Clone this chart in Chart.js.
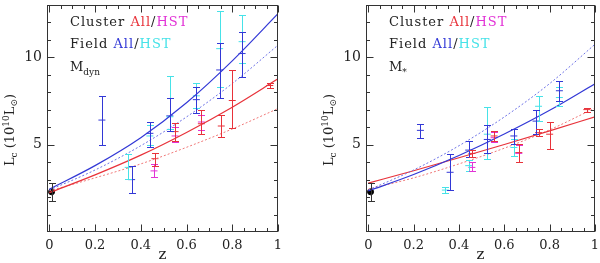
<!DOCTYPE html>
<html>
<head>
<meta charset="utf-8">
<script src="https://cdn.jsdelivr.net/npm/chart.js@4.4.1/dist/chart.umd.min.js"></script>
<style>
  html, body { margin: 0; padding: 0; background: #fff; }
  #wrap { display: flex; width: 600px; height: 263px; }
  canvas { display: block; }
</style>
</head>
<body>
<div id="wrap">
  <canvas id="dyn" width="300" height="263"></canvas>
  <canvas id="star" width="300" height="263"></canvas>
</div>
<script>
// ---- data ----
const fitZ = [0, 0.2, 0.4, 0.6, 0.8, 1.0];

// left panel: M_dyn
const dynFieldFit      = [2.45, 3.8, 5.4, 7.4, 9.8, 12.5];
const dynFieldFitDot   = [2.4, 3.55, 4.94, 6.59, 8.5, 10.7];
const dynClusterFit    = [2.25, 3.27, 4.4, 5.7, 7.15, 8.77];
const dynClusterFitDot = [2.35, 3.1, 3.9, 4.85, 5.9, 7.07];

const dynFieldAllZ  = [0.23, 0.36, 0.44, 0.527, 0.643, 0.745, 0.843];
const dynFieldAllL  = [6.41, 3.0, 5.65, 6.65, 7.58, 9.28, 10.22];
const dynFieldAllLo = [4.97, 2.23, 4.89, 5.78, 6.82, 7.67, 8.9];
const dynFieldAllHi = [7.8, 3.8, 6.29, 7.67, 8.33, 10.85, 11.45];

const dynFieldHstZ  = [0.345, 0.44, 0.527, 0.643, 0.745, 0.843];
const dynFieldHstL  = [3.7, 5.5, 6.6, 7.8, 10.5, 10.9];
const dynFieldHstLo = [3.05, 5.0, 5.9, 7.1, 8.3, 9.66];
const dynFieldHstHi = [4.46, 6.1, 8.92, 8.56, 12.68, 12.43];

const dynClusterAllZ  = [0.462, 0.55, 0.665, 0.752, 0.80, 0.964];
const dynClusterAllL  = [4.2, 5.75, 6.2, 6.07, 7.53, 8.39];
const dynClusterAllLo = [3.8, 5.2, 5.6, 5.44, 5.97, 8.27];
const dynClusterAllHi = [4.55, 6.25, 7.0, 6.69, 9.28, 8.52];

const dynClusterHstZ  = [0.458, 0.55, 0.665];
const dynClusterHstL  = [3.5, 5.5, 6.3];
const dynClusterHstLo = [3.15, 5.15, 5.85];
const dynClusterHstHi = [3.9, 6.0, 6.7];

// right panel: M_*
const starFieldFit      = [2.35, 3.29, 4.38, 5.61, 6.97, 8.49];
const starFieldFitDot   = [2.4, 3.55, 4.94, 6.59, 8.5, 10.75];
const starClusterFit    = [2.8, 3.51, 4.25, 5.01, 5.79, 6.6];
const starClusterFitDot = [2.45, 3.1, 3.9, 4.8, 5.85, 7.1];

const starFieldAllZ  = [0.23, 0.361, 0.443, 0.525, 0.642, 0.74, 0.843];
const starFieldAllL  = [5.82, 3.42, 4.69, 5.3, 5.5, 6.35, 8.09];
const starFieldAllLo = [5.4, 2.38, 4.27, 4.55, 5.03, 5.63, 7.52];
const starFieldAllHi = [6.16, 4.46, 5.22, 6.15, 5.92, 7.01, 8.62];

const starFieldHstZ  = [0.34, 0.443, 0.525, 0.642, 0.751, 0.843];
const starFieldHstL  = [2.4, 3.8, 5.6, 4.84, 7.2, 7.7];
const starFieldHstLo = [2.23, 3.51, 4.2, 4.36, 6.35, 7.2];
const starFieldHstHi = [2.57, 4.12, 7.15, 5.3, 7.77, 8.3];

const starClusterAllZ  = [0.457, 0.555, 0.664, 0.751, 0.80, 0.964];
const starClusterAllL  = [4.5, 5.5, 4.55, 5.69, 5.6, 7.01];
const starClusterAllLo = [4.3, 5.2, 4.0, 5.5, 4.75, 6.9];
const starClusterAllHi = [4.7, 5.8, 5.03, 5.88, 6.31, 7.12];

const starClusterHstZ  = [0.457, 0.555, 0.664];
const starClusterHstL  = [3.7, 5.4, 4.5];
const starClusterHstLo = [3.52, 5.15, 4.0];
const starClusterHstHi = [3.99, 5.7, 5.0];

// local (z~0) point, same in both panels
const localZ = [0.01];
const localL = [2.3];
const localLo = [1.75];
const localHi = [2.8];

// axis ticks
const xMajorTicks = [0, 0.2, 0.4, 0.6, 0.8, 1];
const xTickLabels = ['0', '0.2', '0.4', '0.6', '0.8', '1'];
const yMajorTicks = [5, 10];
const yTickLabels = ['5', '10'];

// ---- styling ----
const RED = 'rgb(232,50,58)';
const RED_DOT = 'rgb(240,120,120)';
const MAGENTA = 'rgb(226,50,214)';
const BLUE = 'rgb(50,56,214)';
const BLUE_DOT = 'rgb(110,115,230)';
const CYAN = 'rgb(70,226,232)';
const INK = '#222';
const SERIF = '"DejaVu Serif", serif';

const xTickVals = [];
for (let i = 0; i <= 20; i++) xTickVals.push(Math.round(i * 5) / 100);
const yTickVals = [];
for (let i = 1; i <= 12; i++) yTickVals.push(i);

const isMajor = (v, list) => list.some(m => Math.abs(m - v) < 1e-6);

function errSet(z, l, lo, hi, color) {
    return {
        type: 'scatter',
        data: z.map((v, i) => ({ x: v, y: l[i] })),
        errLo: lo,
        errHi: hi,
        pointStyle: 'line',
        pointRadius: 3.5,
        pointBorderWidth: 1,
        pointBorderColor: color,
        borderColor: color,
        backgroundColor: color,
    };
}

function fitSet(y, color, dotted) {
    return {
        type: 'line',
        data: fitZ.map((v, i) => ({ x: v, y: y[i] })),
        borderColor: color,
        borderWidth: dotted ? 1 : 1.2,
        borderDash: dotted ? [2, 2] : [],
        pointRadius: 0,
        cubicInterpolationMode: 'monotone',
        fill: false,
    };
}

function localSet() {
    return {
        type: 'scatter',
        data: localZ.map((v, i) => ({ x: v, y: localL[i] })),
        errLo: localLo,
        errHi: localHi,
        pointStyle: 'circle',
        pointRadius: 3,
        pointBackgroundColor: '#000',
        pointBorderColor: '#000',
        borderColor: '#333',
        backgroundColor: '#000',
    };
}

const errorBars = {
    id: 'errorBars',
    afterDatasetsDraw(chart) {
        const { ctx, scales: { x, y } } = chart;
        chart.data.datasets.forEach(ds => {
            if (!ds.errLo) return;
            ctx.save();
            ctx.strokeStyle = ds.borderColor;
            ctx.lineWidth = 1;
            ctx.beginPath();
            ds.data.forEach((p, i) => {
                const px = Math.round(x.getPixelForValue(p.x)) + 0.5;
                const yl = Math.round(y.getPixelForValue(ds.errLo[i])) + 0.5;
                const yh = Math.round(y.getPixelForValue(ds.errHi[i])) + 0.5;
                ctx.moveTo(px, yl); ctx.lineTo(px, yh);
                ctx.moveTo(px - 3.5, yl); ctx.lineTo(px + 3.5, yl);
                ctx.moveTo(px - 3.5, yh); ctx.lineTo(px + 3.5, yh);
            });
            ctx.stroke();
            ctx.restore();
        });
    }
};

const frame = {
    id: 'frame',
    afterDraw(chart) {
        const { ctx, chartArea: a, scales: { x, y } } = chart;
        ctx.save();
        ctx.strokeStyle = '#333';
        ctx.lineWidth = 1;
        const L = Math.round(a.left) + 0.5, R = Math.round(a.right) - 0.5;
        const T = Math.round(a.top) + 0.5, B = Math.round(a.bottom) - 0.5;
        ctx.strokeRect(L, T, R - L, B - T);
        ctx.beginPath();
        x.ticks.forEach(t => {
            const px = Math.round(x.getPixelForValue(t.value)) + 0.5;
            const len = isMajor(t.value, xMajorTicks) ? 7 : 3.5;
            ctx.moveTo(px, B); ctx.lineTo(px, B - len);
            ctx.moveTo(px, T); ctx.lineTo(px, T + len);
        });
        y.ticks.forEach(t => {
            const py = Math.round(y.getPixelForValue(t.value)) + 0.5;
            const len = isMajor(t.value, yMajorTicks) ? 7 : 3.5;
            ctx.moveTo(L, py); ctx.lineTo(L + len, py);
            ctx.moveTo(R, py); ctx.lineTo(R - len, py);
        });
        ctx.stroke();
        ctx.restore();
    }
};

// draws a sequence of text runs (colour, size, vertical shift)
function drawRuns(ctx, x, y, runs, spacing) {
    let cx = x;
    runs.forEach(r => {
        ctx.font = `${r.size || 13}px ${SERIF}`;
        ctx.letterSpacing = (spacing || 0) + 'px';
        ctx.fillStyle = r.color || INK;
        ctx.fillText(r.t, cx, y + (r.dy || 0));
        cx += ctx.measureText(r.t).width;
    });
    return cx - x;
}

function measureRuns(ctx, runs, spacing) {
    let w = 0;
    runs.forEach(r => {
        ctx.font = `${r.size || 13}px ${SERIF}`;
        ctx.letterSpacing = (spacing || 0) + 'px';
        w += ctx.measureText(r.t).width;
    });
    return w;
}

const panelText = {
    id: 'panelText',
    afterDraw(chart, args, opts) {
        const { ctx, chartArea: a } = chart;
        ctx.save();
        ctx.textBaseline = 'alphabetic';
        ctx.textAlign = 'left';
        const lx = opts.legendX;
        drawRuns(ctx, lx, 26, [
            { t: 'Cluster ' }, { t: 'All', color: RED }, { t: '/' }, { t: 'HST', color: MAGENTA }
        ], 1);
        drawRuns(ctx, lx, 48, [
            { t: 'Field ' }, { t: 'All', color: BLUE }, { t: '/' }, { t: 'HST', color: CYAN }
        ], 1);
        drawRuns(ctx, lx, 71, opts.massLabel, 0);

        // x title
        ctx.font = `15px ${SERIF}`;
        ctx.letterSpacing = '0px';
        ctx.fillStyle = INK;
        ctx.textAlign = 'center';
        ctx.fillText('z', (a.left + a.right) / 2, 259);

        // y title, rotated
        ctx.textAlign = 'left';
        const yRuns = [
            { t: 'L', size: 13 }, { t: 'c', size: 9, dy: 3 }, { t: ' (10', size: 13 },
            { t: '10', size: 9, dy: -5 }, { t: 'L', size: 13 }, { t: '⊙', size: 9, dy: 3 }, { t: ')', size: 13 }
        ];
        const w = measureRuns(ctx, yRuns, 0);
        ctx.translate(opts.yTitleX, opts.yTitleY);
        ctx.rotate(-Math.PI / 2);
        drawRuns(ctx, -w / 2, 5, yRuns, 0);
        ctx.restore();
    }
};

function makeChart(id, cfg) {
    const datasets = [
        fitSet(cfg.fieldFit, BLUE, false),
        fitSet(cfg.fieldFitDot, BLUE_DOT, true),
        fitSet(cfg.clusterFit, RED, false),
        fitSet(cfg.clusterFitDot, RED_DOT, true),
        errSet(cfg.fieldHst[0], cfg.fieldHst[1], cfg.fieldHst[2], cfg.fieldHst[3], CYAN),
        errSet(cfg.fieldAll[0], cfg.fieldAll[1], cfg.fieldAll[2], cfg.fieldAll[3], BLUE),
        errSet(cfg.clusterHst[0], cfg.clusterHst[1], cfg.clusterHst[2], cfg.clusterHst[3], MAGENTA),
        errSet(cfg.clusterAll[0], cfg.clusterAll[1], cfg.clusterAll[2], cfg.clusterAll[3], RED),
        localSet(),
    ];
    return new Chart(document.getElementById(id), {
        data: { datasets },
        options: {
            responsive: false,
            animation: false,
            events: [],
            layout: { padding: { top: 2, right: cfg.padRight, left: 0, bottom: 0 } },
            plugins: {
                legend: { display: false },
                tooltip: { enabled: false },
                panelText: {
                    legendX: cfg.legendX,
                    massLabel: cfg.massLabel,
                    yTitleX: cfg.yTitleX,
                    yTitleY: 130,
                },
            },
            scales: {
                x: {
                    type: 'linear',
                    min: -0.01,
                    max: 1.0,
                    grid: { display: false, drawTicks: false },
                    border: { display: false },
                    afterBuildTicks: s => { s.ticks = xTickVals.map(v => ({ value: v })); },
                    afterFit: s => { s.height = 31; s.paddingLeft = 0; s.paddingRight = 0; },
                    ticks: {
                        autoSkip: false,
                        maxRotation: 0,
                        padding: 6,
                        color: INK,
                        font: { family: SERIF, size: 13 },
                        callback: v => {
                            const k = xMajorTicks.findIndex(m => Math.abs(m - v) < 1e-6);
                            return k >= 0 ? xTickLabels[k] : '';
                        },
                    },
                },
                y: {
                    type: 'linear',
                    min: 0,
                    max: 13,
                    grid: { display: false, drawTicks: false },
                    border: { display: false },
                    afterBuildTicks: s => { s.ticks = yTickVals.map(v => ({ value: v })); },
                    afterFit: s => { s.width = cfg.yWidth; s.paddingTop = 0; s.paddingBottom = 0; },
                    ticks: {
                        autoSkip: false,
                        padding: 5,
                        color: INK,
                        font: { family: SERIF, size: 14 },
                        callback: v => {
                            const k = yMajorTicks.findIndex(m => Math.abs(m - v) < 1e-6);
                            return k >= 0 ? yTickLabels[k] : '';
                        },
                    },
                },
            },
        },
        plugins: [errorBars, frame, panelText],
    });
}

makeChart('dyn', {
    fieldFit: dynFieldFit, fieldFitDot: dynFieldFitDot,
    clusterFit: dynClusterFit, clusterFitDot: dynClusterFitDot,
    fieldAll: [dynFieldAllZ, dynFieldAllL, dynFieldAllLo, dynFieldAllHi],
    fieldHst: [dynFieldHstZ, dynFieldHstL, dynFieldHstLo, dynFieldHstHi],
    clusterAll: [dynClusterAllZ, dynClusterAllL, dynClusterAllLo, dynClusterAllHi],
    clusterHst: [dynClusterHstZ, dynClusterHstL, dynClusterHstLo, dynClusterHstHi],
    yWidth: 47, padRight: 22, legendX: 70, yTitleX: 9,
    massLabel: [{ t: 'M' }, { t: 'dyn', size: 9, dy: 4 }],
});

makeChart('star', {
    fieldFit: starFieldFit, fieldFitDot: starFieldFitDot,
    clusterFit: starClusterFit, clusterFitDot: starClusterFitDot,
    fieldAll: [starFieldAllZ, starFieldAllL, starFieldAllLo, starFieldAllHi],
    fieldHst: [starFieldHstZ, starFieldHstL, starFieldHstLo, starFieldHstHi],
    clusterAll: [starClusterAllZ, starClusterAllL, starClusterAllLo, starClusterAllHi],
    clusterHst: [starClusterHstZ, starClusterHstL, starClusterHstLo, starClusterHstHi],
    yWidth: 66, padRight: 2, legendX: 89, yTitleX: 28,
    massLabel: [{ t: 'M' }, { t: '*', size: 9, dy: 4 }],
});
</script>
</body>
</html>
